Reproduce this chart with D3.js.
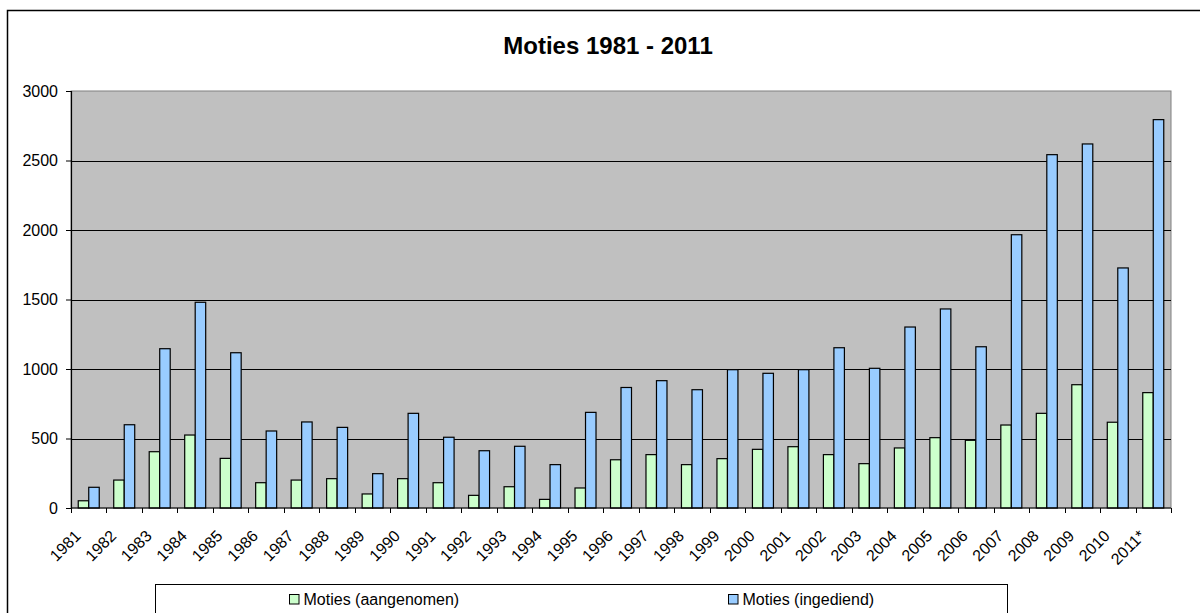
<!DOCTYPE html>
<html>
<head>
<meta charset="utf-8">
<script src="https://cdn.jsdelivr.net/npm/d3@7"></script>
<style>
  body { margin: 0; background: #fff; }
  svg { display: block; font-family: Arial, "Liberation Sans", sans-serif; }
</style>
</head>
<body>
<svg id="chart" width="1200" height="613"></svg>
<script>
// years on the x axis
const years = ["1981", "1982", "1983", "1984", "1985", "1986", "1987", "1988", "1989", "1990",
  "1991", "1992", "1993", "1994", "1995", "1996", "1997", "1998", "1999", "2000",
  "2001", "2002", "2003", "2004", "2005", "2006", "2007", "2008", "2009", "2010", "2011*"];

// Moties (aangenomen)
const aangenomen = [52, 201, 405, 525, 357, 182, 201, 211, 101, 211,
  182, 91, 153, 62, 144, 347, 384, 312, 355, 422,
  441, 384, 319, 432, 506, 487, 597, 681, 887, 617, 830];

// Moties (ingediend)
const ingediend = [149, 599, 1146, 1480, 1117, 554, 619, 580, 247, 681,
  509, 412, 444, 312, 688, 867, 916, 851, 995, 969,
  995, 1153, 1005, 1302, 1432, 1160, 1966, 2542, 2619, 1727, 2794];

const yTicks = [0, 500, 1000, 1500, 2000, 2500, 3000];
const seriesNames = ["Moties (aangenomen)", "Moties (ingediend)"];
const colors = ["#ccffcc", "#99ccff"];

const svg = d3.select("#chart");
const plot = { left: 71, top: 91, right: 1171, bottom: 508 };
const fontSize = 16;

// outer chart frame (runs off the right and bottom of the picture)
svg.append("rect")
  .attr("x", 7.5).attr("y", 10.5)
  .attr("width", 1300).attr("height", 700)
  .attr("fill", "none").attr("stroke", "#000").attr("stroke-width", 1.5);

svg.append("text")
  .attr("x", 608).attr("y", 54)
  .attr("text-anchor", "middle")
  .attr("font-size", 24).attr("font-weight", "bold")
  .text("Moties 1981 - 2011");

const x = d3.scaleBand().domain(years).range([plot.left, plot.right]);
const y = d3.scaleLinear().domain([0, 3000]).range([plot.bottom, plot.top]);
const inner = d3.scaleBand().domain([0, 1])
  .range([0, x.bandwidth()]).paddingOuter(0.69).paddingInner(0);

// plot area
svg.append("rect")
  .attr("x", plot.left).attr("y", plot.top)
  .attr("width", plot.right - plot.left).attr("height", plot.bottom - plot.top)
  .attr("fill", "#c0c0c0").attr("stroke", "#808080").attr("stroke-width", 1);

// gridlines
svg.append("g")
  .selectAll("line")
  .data(yTicks.filter((d) => d > 0 && d < 3000))
  .enter()
  .append("line")
  .attr("x1", plot.left).attr("x2", plot.right)
  .attr("y1", (d) => Math.round(y(d)) + 0.5).attr("y2", (d) => Math.round(y(d)) + 0.5)
  .attr("stroke", "#000").attr("stroke-width", 1);

// bars
const groups = svg.append("g")
  .selectAll("g")
  .data(years)
  .enter()
  .append("g")
  .attr("transform", (d) => `translate(${x(d)},0)`);

[aangenomen, ingediend].forEach((values, s) => {
  groups.append("rect")
    .attr("x", inner(s))
    .attr("y", (d, i) => y(values[i]))
    .attr("width", inner.bandwidth())
    .attr("height", (d, i) => plot.bottom - y(values[i]))
    .attr("fill", colors[s])
    .attr("stroke", "#000").attr("stroke-width", 1.2);
});

// y axis
const yAxis = svg.append("g")
  .attr("transform", `translate(${plot.left},0)`)
  .call(d3.axisLeft(y).tickValues(yTicks).tickSize(5).tickPadding(8).tickFormat(d3.format("d")));
yAxis.select(".domain").attr("stroke", "#000").attr("stroke-width", 1.2);
yAxis.selectAll("text")
  .attr("font-size", fontSize).attr("fill", "#000")
  .attr("font-family", "Arial, 'Liberation Sans', sans-serif");

// x axis: ticks sit on category boundaries
const xAxis = svg.append("g").attr("transform", `translate(0,${plot.bottom})`);
xAxis.append("line")
  .attr("x1", plot.left).attr("x2", plot.right)
  .attr("y1", 0).attr("y2", 0)
  .attr("stroke", "#000").attr("stroke-width", 1.2);
xAxis.selectAll(".tick")
  .data(years.concat(["end"]))
  .enter()
  .append("line")
  .attr("x1", (d, i) => Math.round(plot.left + i * x.step()) + 0.5)
  .attr("x2", (d, i) => Math.round(plot.left + i * x.step()) + 0.5)
  .attr("y1", 0).attr("y2", 5)
  .attr("stroke", "#000");
xAxis.selectAll(".lbl")
  .data(years)
  .enter()
  .append("text")
  .attr("transform", (d) => `translate(${x(d) + x.bandwidth() / 2 - 11},${25}) rotate(-45)`)
  .attr("text-anchor", "end")
  .attr("dy", "0.35em")
  .attr("font-size", fontSize)
  .text((d) => d);

// legend
const legend = svg.append("g");
legend.append("rect")
  .attr("x", 155.5).attr("y", 584.5)
  .attr("width", 852).attr("height", 60)
  .attr("fill", "#fff").attr("stroke", "#000").attr("stroke-width", 1);
const legendX = [289.5, 728.5];
seriesNames.forEach((name, s) => {
  legend.append("rect")
    .attr("x", legendX[s]).attr("y", 594.5)
    .attr("width", 9.5).attr("height", 9.5)
    .attr("fill", colors[s]).attr("stroke", "#000").attr("stroke-width", 1);
  legend.append("text")
    .attr("x", legendX[s] + 14).attr("y", 604.5)
    .attr("font-size", fontSize)
    .text(name);
});
</script>
</body>
</html>
